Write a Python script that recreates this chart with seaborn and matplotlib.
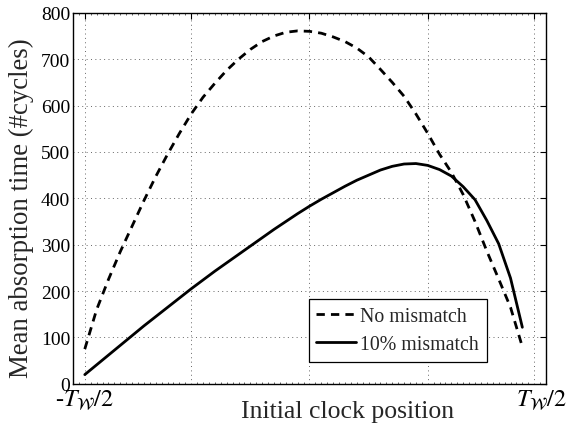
import numpy as np
import pandas as pd
import matplotlib
matplotlib.use("Agg")
import matplotlib.pyplot as plt
import matplotlib.transforms as mtransforms
from matplotlib.ticker import MultipleLocator, FixedLocator
import seaborn as sns

# ---- data ----
positions = list(range(1, 39))
no_mismatch = [75, 160, 225, 285, 340, 395, 447, 495, 540, 582,
               618, 648, 676, 700, 721, 738, 750, 758, 761, 760,
               756, 748, 738, 724, 705, 678, 650, 620, 582, 540,
               495, 456, 408, 350, 286, 226, 165, 80]
mismatch_10 = [20, 41, 62, 83, 104, 125, 145, 165, 185, 205,
               224, 243, 261, 279, 297, 315, 333, 350, 367, 383,
               398, 412, 426, 439, 450, 461, 469, 474, 475, 471,
               462, 448, 425, 397, 352, 302, 228, 122]
series_names = ["No mismatch", "10% mismatch"]
x_ticks = [1, 10, 20, 30, 39]
x_tick_labels = [r"-$T_{\mathcal{W}}/2$", "", "", "", r"$T_{\mathcal{W}}/2$"]
y_ticks = [0, 100, 200, 300, 400, 500, 600, 700, 800]

df = pd.DataFrame({
    "pos": positions * 2,
    "value": no_mismatch + mismatch_10,
    "series": [series_names[0]] * len(positions) + [series_names[1]] * len(positions),
})

sns.set_style("white")
plt.rcParams["font.family"] = ["Liberation Serif", "DejaVu Serif"]
plt.rcParams["mathtext.fontset"] = "stix"

fig = plt.figure(figsize=(5.79, 4.31), dpi=100)
ax = fig.add_axes([0.126, 0.107, 0.817, 0.861])

sns.lineplot(data=df, x="pos", y="value", hue="series", style="series",
             palette=["black", "black"],
             dashes={series_names[0]: (3.0, 2.2), series_names[1]: ""},
             linewidth=2.0, ax=ax, legend=True)

ax.set_xlim(0, 40)
ax.set_ylim(0, 800)
ax.xaxis.set_major_locator(FixedLocator(x_ticks))
ax.set_xticklabels(x_tick_labels)
ax.xaxis.set_minor_locator(MultipleLocator(0.5))
ax.set_yticks(y_ticks)
ax.tick_params(axis="both", which="major", direction="in", length=4,
               width=0.8, top=True, right=True, colors="black")
ax.tick_params(axis="y", labelsize=14, pad=2)
ax.tick_params(axis="x", labelsize=17.5, pad=2.5)
ax.tick_params(axis="x", which="minor", direction="in", length=1.5,
               width=0.5, top=True, bottom=True)
ax.grid(True, which="major", linestyle=(0, (1, 3.5)), color="#666666",
        linewidth=0.7)
for s in ax.spines.values():
    s.set_color("black")
    s.set_linewidth(1.0)

# nudge the right-hand tick label slightly right, as in the reference
lab_right = ax.get_xticklabels()[-1]
lab_right.set_transform(lab_right.get_transform() +
                        mtransforms.ScaledTranslation(7 / 100, 0, fig.dpi_scale_trans))

ax.set_xlabel("Initial clock position", fontsize=18.5)
ax.xaxis.set_label_coords(0.58, -0.072)
ax.xaxis.label.set_va("center")
ax.set_ylabel("Mean absorption time (#cycles)", fontsize=19.3)
ax.yaxis.set_label_coords(-0.108, 0.476)
ax.yaxis.label.set_va("center")

leg = ax.legend(loc="lower right", bbox_to_anchor=(0.875, 0.059),
                fontsize=14.3, frameon=True, fancybox=False,
                edgecolor="black", framealpha=1, handlelength=2.0,
                handletextpad=0.2, borderpad=0.4, labelspacing=0.45,
                borderaxespad=0)
leg.get_frame().set_linewidth(0.9)

fig.savefig("out.png", dpi=100)
